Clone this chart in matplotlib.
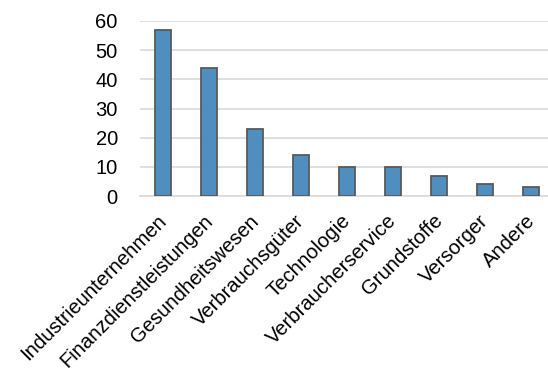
import matplotlib
matplotlib.use("Agg")
import matplotlib.pyplot as plt
from matplotlib.transforms import ScaledTranslation

plt.rcParams['font.family'] = ['Liberation Sans', 'DejaVu Sans']

sectors = ["Industrieunternehmen", "Finanzdienstleistungen", "Gesundheitswesen",
           "Verbrauchsgüter", "Technologie", "Verbraucherservice", "Grundstoffe",
           "Versorger", "Andere"]
counts = [57, 44, 23, 14, 10, 10, 7, 4, 3]
y_ticks = [0, 10, 20, 30, 40, 50, 60]

fig = plt.figure(figsize=(5.48, 3.74), dpi=100)
ax = fig.add_axes([140 / 548, 178 / 374, 408 / 548, (196 - 21) / 374])

x = range(len(sectors))
ax.bar(x, counts, width=0.35, color="#4F8FC0", edgecolor="#595959", linewidth=1.3, zorder=3)

ax.set_ylim(0, 60)
ax.set_xlim(-0.5, -0.5 + 408 / 46)
ax.set_yticks(y_ticks)
ax.yaxis.grid(True, color="#D9D9D9", linewidth=1.2, zorder=0)
ax.set_axisbelow(True)
for s in ["top", "right", "left"]:
    ax.spines[s].set_visible(False)
ax.spines["bottom"].set_color("#D9D9D9")
ax.spines["bottom"].set_linewidth(1.2)
ax.tick_params(axis="both", length=0, colors="black")
ax.tick_params(axis="y", labelsize=14.5, pad=16)
ax.set_xticks(list(x))
ax.set_xticklabels(sectors, rotation=45, ha="right", rotation_mode="anchor")
ax.tick_params(axis="x", labelsize=14.6, pad=11)

# nudge the rotated category labels a little to the left
shift = ScaledTranslation(-6 / 100, 0, fig.dpi_scale_trans)
for lbl in ax.get_xticklabels():
    lbl.set_transform(lbl.get_transform() + shift)

fig.savefig("out.png", dpi=100)
